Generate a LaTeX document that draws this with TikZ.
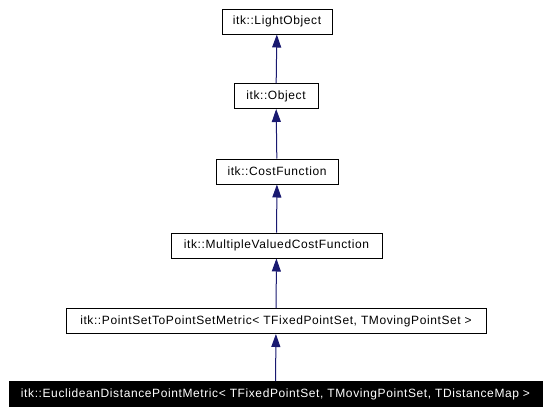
\documentclass[tikz,border=0pt]{standalone}
\usepackage{fontspec}
\setmainfont{Liberation Sans}
\usetikzlibrary{arrows.meta}
\definecolor{edgeblue}{RGB}{25,25,112}
\tikzset{
  x=1pt, y=-1pt,
  cls/.style={draw=black, fill=white, line width=1pt, minimum height=25pt, inner sep=0pt,
    font=\fontsize{12}{14}\selectfont\addfontfeature{LetterSpace=5}},
  clsmain/.style={cls, fill=black, text=white},
  inherit/.style={draw=edgeblue, line width=1pt, -{Triangle[length=13pt,width=9pt]}}
}
\begin{document}
\begin{tikzpicture}
\useasboundingbox (0,0) rectangle (551,415);
\node[cls, minimum width=110pt] (lo) at (277,21.5) {itk::LightObject};
\node[cls, minimum width=84pt] (ob) at (276,96) {itk::Object};
\node[cls, minimum width=122pt] (cf) at (277,171.5) {itk::CostFunction};
\node[cls, minimum width=211pt] (mv) at (276.5,245.5) {itk::MultipleValuedCostFunction};
\node[cls, minimum width=420pt] (ps) at (276,321) {itk::PointSetToPointSetMetric< TFixedPointSet, TMovingPointSet >};
\node[clsmain, minimum width=533pt] (ed) at (275.5,394) {itk::EuclideanDistancePointMetric< TFixedPointSet, TMovingPointSet, TDistanceMap >};
\draw[inherit] (ob) -- (lo);
\draw[inherit] (cf) -- (ob);
\draw[inherit] (mv) -- (cf);
\draw[inherit] (ps) -- (mv);
\draw[inherit] (ed) -- (ps);
\end{tikzpicture}
\end{document}
